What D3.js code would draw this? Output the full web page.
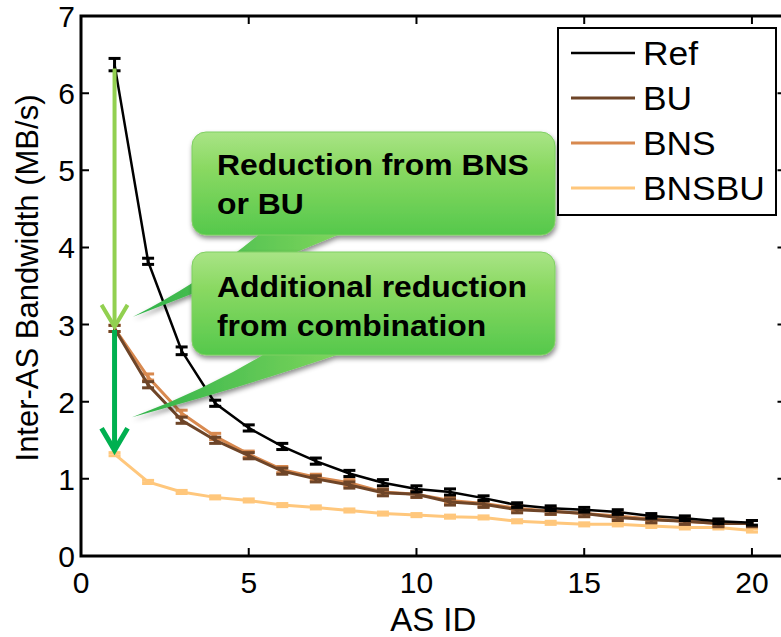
<!DOCTYPE html>
<html>
<head>
<meta charset="utf-8">
<script src="https://cdn.jsdelivr.net/npm/d3@7"></script>
<style>
  body { margin: 0; background: #fff; }
  svg { display: block; font-family: "Liberation Sans", Arial, sans-serif; }
</style>
</head>
<body>
<svg width="781" height="637"></svg>
<script>
const asIds = d3.range(1, 21)
const refVals   = [6.37, 3.82, 2.66, 1.98, 1.66, 1.42, 1.23, 1.07, 0.95, 0.87, 0.83, 0.75, 0.66, 0.62, 0.60, 0.57, 0.52, 0.49, 0.45, 0.43]
const buVals    = [2.95, 2.22, 1.76, 1.50, 1.30, 1.10, 1.00, 0.92, 0.82, 0.80, 0.70, 0.67, 0.60, 0.58, 0.55, 0.50, 0.47, 0.45, 0.42, 0.42]
const bnsVals   = [2.95, 2.32, 1.85, 1.55, 1.32, 1.12, 1.02, 0.95, 0.83, 0.80, 0.72, 0.68, 0.62, 0.58, 0.55, 0.52, 0.48, 0.45, 0.42, 0.42]
const bnsbuVals = [1.32, 0.96, 0.83, 0.76, 0.72, 0.66, 0.63, 0.59, 0.55, 0.53, 0.51, 0.50, 0.45, 0.43, 0.41, 0.41, 0.39, 0.37, 0.37, 0.33]
const refErr    = [0.08, 0.04, 0.05, 0.04, 0.04, 0.04, 0.04, 0.04, 0.04, 0.04, 0.04, 0.03, 0.03, 0.03, 0.03, 0.03, 0.03, 0.03, 0.03, 0.03]
const buErr = 0.04, bnsErr = 0.04, bnsbuErr = 0.02

const series = [
  { name: 'Ref',   values: refVals,   err: refVals.map((d, i) => refErr[i]), color: '#000000', width: 2.5 },
  { name: 'BU',    values: buVals,    err: buVals.map(() => buErr),          color: '#6e4528', width: 3 },
  { name: 'BNS',   values: bnsVals,   err: bnsVals.map(() => bnsErr),        color: '#d8894f', width: 3 },
  { name: 'BNSBU', values: bnsbuVals, err: bnsbuVals.map(() => bnsbuErr),    color: '#ffc77c', width: 3 },
]
const xTicks = [0, 5, 10, 15, 20]
const yTicks = d3.range(0, 8)

const svg = d3.select('svg')

const x = d3.scaleLinear().domain([0, 21]).range([81, 785.5])
const y = d3.scaleLinear().domain([0, 7]).range([556, 16])

// defs: gradient + shadow for callouts
const defs = svg.append('defs')
const grad = defs.append('linearGradient').attr('id', 'gg').attr('x1', 0).attr('y1', 0).attr('x2', 0).attr('y2', 1)
grad.append('stop').attr('offset', '0%').attr('stop-color', '#a9e486')
grad.append('stop').attr('offset', '35%').attr('stop-color', '#8ad962')
grad.append('stop').attr('offset', '100%').attr('stop-color', '#55c84c')
const pgrad = defs.append('linearGradient').attr('id', 'pg').attr('x1', 0).attr('y1', 0).attr('x2', 1).attr('y2', 0)
pgrad.append('stop').attr('offset', '0%').attr('stop-color', '#2fb24a')
pgrad.append('stop').attr('offset', '100%').attr('stop-color', '#7fd65c')
const shadow = defs.append('filter').attr('id', 'sh').attr('x', '-10%').attr('y', '-10%').attr('width', '130%').attr('height', '140%')
shadow.append('feDropShadow').attr('dx', 1).attr('dy', 3).attr('stdDeviation', 2.5).attr('flood-color', '#000').attr('flood-opacity', 0.45)

// lines + error bars
const line = d3.line().x((d, i) => x(asIds[i])).y(d => y(d))
const capW = 6

series.slice().reverse().forEach(s => {
  const g = svg.append('g')
  g.append('path')
    .attr('d', line(s.values))
    .attr('fill', 'none')
    .attr('stroke', s.color)
    .attr('stroke-width', s.width)
  const eb = g.selectAll('g.eb')
      .data(s.values.map((v, i) => ({ x: asIds[i], v, e: s.err[i] })))
    .enter().append('g')
      .attr('stroke', s.color)
      .attr('stroke-width', 3)
  eb.append('line')
    .attr('x1', d => x(d.x)).attr('x2', d => x(d.x))
    .attr('y1', d => y(d.v - d.e)).attr('y2', d => y(d.v + d.e))
  eb.append('line')
    .attr('x1', d => x(d.x) - capW).attr('x2', d => x(d.x) + capW)
    .attr('y1', d => y(d.v + d.e)).attr('y2', d => y(d.v + d.e))
  eb.append('line')
    .attr('x1', d => x(d.x) - capW).attr('x2', d => x(d.x) + capW)
    .attr('y1', d => y(d.v - d.e)).attr('y2', d => y(d.v - d.e))
})

// axes box
const axisG = svg.append('g').attr('stroke', '#000').attr('stroke-width', 3)
axisG.append('rect')
  .attr('x', x(0)).attr('y', y(7))
  .attr('width', x(21) - x(0)).attr('height', y(0) - y(7))
  .attr('fill', 'none')
const tickLen = 8
axisG.selectAll('.xt').data(xTicks).enter().append('path')
  .attr('d', d => `M${x(d)},${y(0)}v${-tickLen}M${x(d)},${y(7)}v${tickLen}`)
  .attr('stroke-width', 2)
axisG.selectAll('.yt').data(yTicks).enter().append('path')
  .attr('d', d => `M${x(0)},${y(d)}h${tickLen}M${x(21)},${y(d)}h${-tickLen}`)
  .attr('stroke-width', 2)

svg.append('g').selectAll('text').data(xTicks).enter().append('text')
  .attr('x', d => x(d)).attr('y', 593)
  .attr('text-anchor', 'middle')
  .attr('font-size', 30)
  .text(d => d)
svg.append('g').selectAll('text').data(yTicks).enter().append('text')
  .attr('x', 75).attr('y', d => y(d) + 11)
  .attr('text-anchor', 'end')
  .attr('font-size', 30)
  .text(d => d)

svg.append('text')
  .attr('x', (x(0) + x(21)) / 2).attr('y', 631)
  .attr('text-anchor', 'middle')
  .attr('font-size', 33)
  .text('AS ID')
svg.append('text')
  .attr('transform', `translate(38,${278}) rotate(-90)`)
  .attr('text-anchor', 'middle')
  .attr('font-size', 31)
  .text('Inter-AS Bandwidth (MB/s)')

// green arrows at AS 1
const ax = x(1)
function arrow(from, to, color, w) {
  const g = svg.append('g').attr('stroke', color).attr('stroke-width', w).attr('fill', 'none')
  g.append('line').attr('x1', ax).attr('x2', ax).attr('y1', y(from)).attr('y2', y(to) - 2)
  g.append('path')
    .attr('d', `M${ax - 13},${y(to) - 22}L${ax},${y(to)}L${ax + 13},${y(to) - 22}`)
    .attr('stroke-linejoin', 'miter')
}
arrow(refVals[0] - 0.05, bnsVals[0] + 0.02, '#92d050', 4)
arrow(bnsVals[0] - 0.02, bnsbuVals[0] + 0.05, '#00b050', 5)

// callouts
function callout(bx, by, bw, bh, pointer, lines, ty) {
  const g = svg.append('g').attr('filter', 'url(#sh)')
  g.append('path').attr('d', pointer).attr('fill', 'url(#pg)')
  g.append('rect')
    .attr('x', bx).attr('y', by).attr('width', bw).attr('height', bh)
    .attr('rx', 14).attr('ry', 14)
    .attr('fill', 'url(#gg)')
    .attr('stroke', '#7fcf63').attr('stroke-width', 1)
  const t = svg.append('g')
  lines.forEach((l, i) => {
    t.append('text')
      .attr('transform', `translate(${bx + 25},${ty + i * 39}) scale(1.1,1)`)
      .attr('font-size', 29).attr('font-weight', 'bold')
      .text(l)
  })
}
callout(192, 132, 363, 103,
  `M262,232 Q205,280 ${x(1.55)},${y(3.1)} Q250,272 345,232 Z`,
  ['Reduction from BNS', 'or BU'], 175)
callout(192, 252, 363, 103,
  `M268,352 Q205,390 ${x(1.52)},${y(1.8)} Q250,385 345,352 Z`,
  ['Additional reduction', 'from combination'], 297)

// legend
const lg = svg.append('g')
lg.append('rect')
  .attr('x', 558).attr('y', 28).attr('width', 218).attr('height', 187)
  .attr('fill', '#fff').attr('stroke', '#000').attr('stroke-width', 2)
const li = lg.selectAll('g.li').data(series).enter().append('g')
  .attr('transform', (d, i) => `translate(0,${53 + i * 45})`)
li.append('line')
  .attr('x1', 571).attr('x2', 635)
  .attr('stroke', d => d.color).attr('stroke-width', d => d.width)
li.append('text')
  .attr('transform', 'translate(643,12) scale(1.04,1)')
  .attr('font-size', 34)
  .text(d => d.name)
</script>
</body>
</html>
